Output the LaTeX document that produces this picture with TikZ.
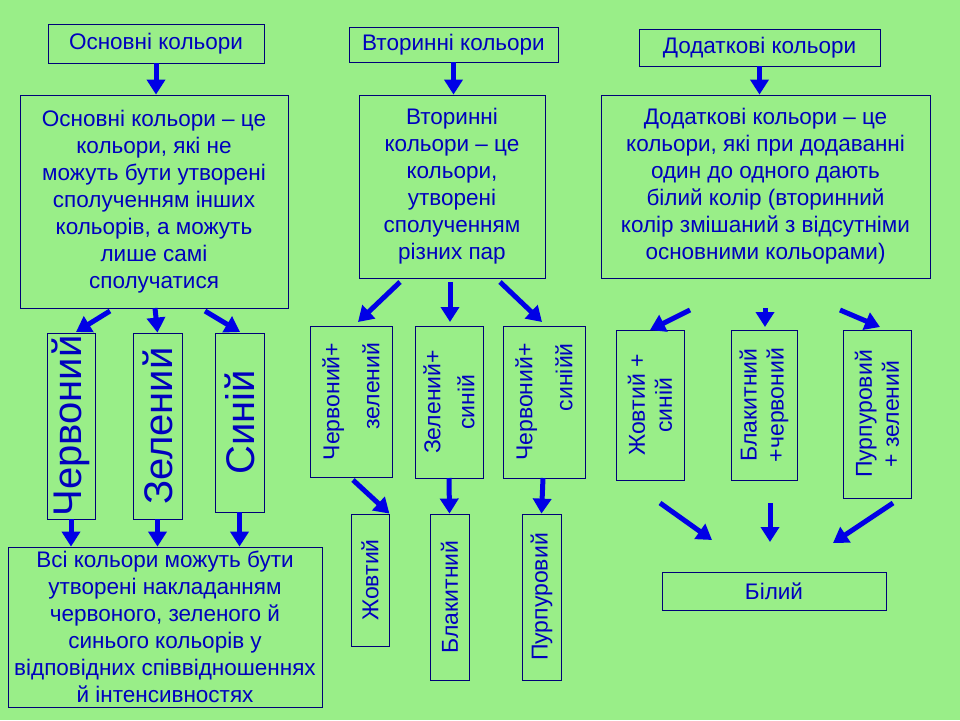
\documentclass[tikz,border=0pt]{standalone}
\usepackage{fontspec}
\setmainfont{Liberation Sans}
\usetikzlibrary{arrows.meta}
\definecolor{bg}{RGB}{153,238,136}
\definecolor{txt}{RGB}{0,0,190}
\definecolor{edge}{RGB}{0,0,120}
\definecolor{arr}{RGB}{0,0,230}
\begin{document}
\begin{tikzpicture}[x=1pt,y=-1pt,
  box/.style={draw=edge,line width=0.8pt,fill=bg,text=txt,align=center,inner sep=2pt,font=\fontsize{22.5}{27}\selectfont},
  arrw/.style={draw=arr,line width=5pt,-{Triangle[width=18pt,length=15pt]}}]
\fill[bg] (0,0) rectangle (960,720);
\useasboundingbox (0,0) rectangle (960,720);
\newcommand{\bx}[6]{\node[box,minimum width=#4-#2,minimum height=#5-#3] (#1) at ({(#2+#4)/2},{(#3+#5)/2}) {#6};}
\newcommand{\vb}[8]{\node[box,minimum width=#4-#2,minimum height=#5-#3] (#1) at ({(#2+#4)/2},{(#3+#5)/2}) {};
  \node[text=txt,rotate=90,align=#8,font=#7] at (#1.center) {#6};}
\bx{b1}{48}{24}{264}{63}{Основні кольори}
\bx{b2}{349}{27}{558}{62}{Вторинні кольори}
\bx{b3}{639}{29}{880}{66}{Додаткові кольори}
\bx{d1}{20}{95}{288}{308}{Основні кольори – це\\кольори, які не\\можуть бути утворені\\сполученням інших\\кольорів, а можуть\\лише самі\\сполучатися}
\bx{d2}{359}{95}{545}{278}{Вторинні\\кольори – це\\кольори,\\утворені\\сполученням\\різних пар}
\bx{d3}{601}{95}{930}{278}{Додаткові кольори – це\\кольори, які при додаванні\\один до одного дають\\білий колір (вторинний\\колір змішаний з відсутніми\\основними кольорами)}
\vb{p1}{47}{333}{95}{519}{Червоний}{\fontsize{40}{42}\selectfont}{center}
\vb{p2}{133}{333}{182}{519}{Зелений}{\fontsize{40}{42}\selectfont}{center}
\vb{p3}{215}{333}{264}{512}{Синій}{\fontsize{40}{42}\selectfont}{center}
\bx{all}{8}{547}{322}{707}{Всі кольори можуть бути\\утворені накладанням\\червоного, зеленого й\\синього кольорів у\\відповідних співвідношеннях\\й інтенсивностях}
\vb{s1}{310}{326}{392}{477}{Червоний+\\зелений}{\fontsize{23}{40}\selectfont}{right}
\vb{s2}{415}{326}{483}{478}{Зелений+\\синій}{\fontsize{23}{34}\selectfont}{center}
\vb{s3}{503}{326}{585}{478}{Червоний+\\синійй}{\fontsize{23}{40}\selectfont}{right}
\vb{r1}{351}{514}{389}{646}{Жовтий}{\fontsize{23}{27}\selectfont}{center}
\vb{r2}{430}{514}{469}{680}{Блакитний}{\fontsize{23}{27}\selectfont}{center}
\vb{r3}{522}{514}{561}{680}{Пурпуровий}{\fontsize{23}{27}\selectfont}{center}
\vb{a1}{616}{330}{684}{480}{Жовтий +\\синій}{\fontsize{23}{27}\selectfont}{center}
\vb{a2}{731}{330}{797}{480}{Блакитний\\+червоний}{\fontsize{23}{27}\selectfont}{center}
\vb{a3}{843}{330}{911}{498}{Пурпуровий\\+ зелений}{\fontsize{23}{27}\selectfont}{center}
\bx{w}{662}{572}{886}{610}{Білий}
\coordinate (c1) at (110,311); \coordinate (c2) at (155,308); \coordinate (c3) at (205,311);
\coordinate (e1) at (400,282); \coordinate (e2) at (450,282); \coordinate (e3) at (500,282);
\coordinate (f1) at (690,310); \coordinate (f2) at (765,308); \coordinate (f3) at (840,310);
\coordinate (g1) at (660,503); \coordinate (g2) at (770,503); \coordinate (g3) at (893,503);
\coordinate (h1) at (712,540); \coordinate (h2) at (770,542); \coordinate (h3) at (833,543);
\draw[arrw] (b1.south) -- (d1.north -| b1.south);
\draw[arrw] (b2.south) -- (d2.north -| b2.south);
\draw[arrw] (b3.south) -- (d3.north -| b3.south);
\draw[arrw] (c1) -- (76,332);
\draw[arrw] (c2) -- (p2.north);
\draw[arrw] (c3) -- (240,332);
\draw[arrw] (e1) -- (358,322);
\draw[arrw] (e2) -- (450,322);
\draw[arrw] (e3) -- (542,322);
\draw[arrw] (f1) -- (650,330);
\draw[arrw] (f2) -- (765,327);
\draw[arrw] (f3) -- (880,327);
\draw[arrw] (p1.south) -- (all.north -| p1.south);
\draw[arrw] (p2.south) -- (all.north -| p2.south);
\draw[arrw] (p3.south) -- (all.north -| p3.south);
\draw[arrw] (353,480) -- (r1.north east);
\draw[arrw] (449,478) -- (r2.north);
\draw[arrw] (543,478) -- (r3.north);
\draw[arrw] (g1) -- (h1);
\draw[arrw] (g2) -- (h2);
\draw[arrw] (g3) -- (h3);
\end{tikzpicture}
\end{document}
